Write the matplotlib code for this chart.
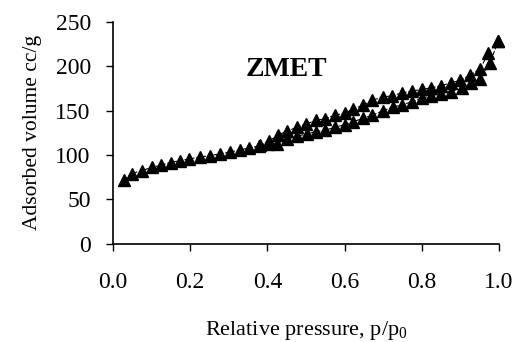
import numpy as np
import matplotlib.pyplot as plt

plt.rcParams['font.family'] = ['Liberation Serif', 'DejaVu Serif']
plt.rcParams['mathtext.fontset'] = 'custom'
plt.rcParams['mathtext.rm'] = 'Liberation Serif'

# adsorption branch (lower)
p_ads = [0.028, 0.048, 0.074, 0.10, 0.124, 0.149, 0.174, 0.198, 0.225, 0.251,
         0.277, 0.303, 0.329, 0.353, 0.379, 0.402, 0.424, 0.45, 0.476, 0.502,
         0.526, 0.55, 0.575, 0.60, 0.623, 0.649, 0.672, 0.70, 0.725, 0.748,
         0.774, 0.80, 0.823, 0.849, 0.877, 0.903, 0.927, 0.951, 0.977, 0.998]
v_ads = [72, 79, 82.5, 86, 88.6, 91.6, 93.8, 95.7, 97.6, 99.4,
         101.4, 103.3, 105.9, 107.8, 110.4, 113, 112.6, 118, 121, 124,
         126.5, 128, 131.4, 134, 137.7, 141.5, 145, 150, 154, 156.5,
         160, 164, 166.7, 169, 171.5, 175, 181, 185.5, 203.5, 229]

# desorption branch (upper)
p_des = [0.998, 0.972, 0.951, 0.925, 0.899, 0.877, 0.849, 0.823, 0.80, 0.774,
         0.75, 0.722, 0.699, 0.672, 0.647, 0.623, 0.60, 0.575, 0.55, 0.526,
         0.50, 0.476, 0.452, 0.428, 0.405, 0.38]
v_des = [229, 214.7, 196.7, 190, 184, 181.6, 178, 175.7, 174, 172,
         170, 167, 165, 162, 156, 152, 147, 145, 141, 139,
         135, 131.4, 127, 122.7, 116, 111]

x_ticks = [0.0, 0.2, 0.4, 0.6, 0.8, 1.0]
y_ticks = [0, 50, 100, 150, 200, 250]

fig = plt.figure(figsize=(5.16, 3.42), dpi=100)
ax = fig.add_axes([0.219, 0.287, 0.748, 0.649])

for p, v in [(p_ads, v_ads), (p_des, v_des)]:
    ax.plot(p, v, color='black', lw=0.8, ls='--', marker='^', ms=8.5,
            markerfacecolor='black', markeredgecolor='black', clip_on=False)

ax.text(0.45, 196, 'ZMET', fontsize=20, fontweight='bold', ha='center', va='center')

ax.set_xlim(0, 1.0)
ax.set_ylim(0, 250)
ax.set_xticks(x_ticks)
ax.set_xticklabels([f'{t:.1f}' for t in x_ticks])
ax.set_yticks(y_ticks)
ax.tick_params(labelsize=17, direction='out', length=5, width=1, pad=11)
ax.tick_params(axis='x', pad=15)

for s in ['top', 'right']:
    ax.spines[s].set_visible(False)
for s in ['left', 'bottom']:
    ax.spines[s].set_linewidth(1.2)

ax.set_xlabel('Relative pressure, p/p$_0$', fontsize=16, labelpad=19)
ax.set_ylabel('Adsorbed volume cc/g', fontsize=15.5, labelpad=10)

fig.savefig('out.png', dpi=100)
